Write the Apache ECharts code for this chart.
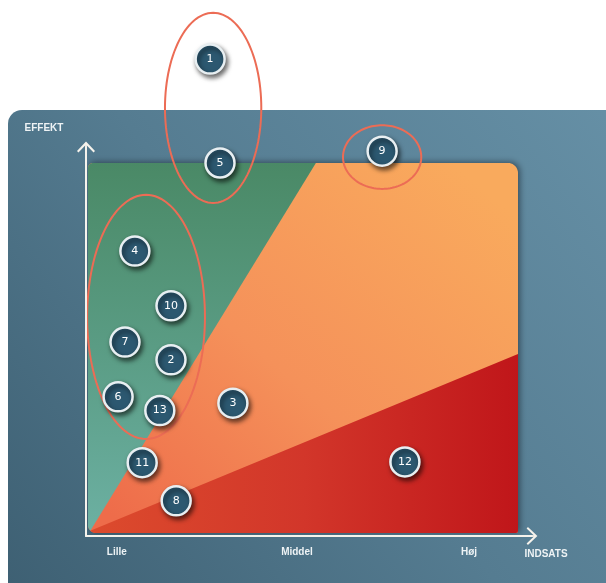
<!DOCTYPE html>
<html>
<head>
<meta charset="utf-8">
<script src="https://cdn.jsdelivr.net/npm/echarts@6/dist/echarts.min.js"></script>
<style>
  html, body { margin: 0; padding: 0; background: #ffffff; }
  #chart { width: 606px; height: 583px; }
</style>
</head>
<body>
<div id="chart"></div>
<script>
// Initiatives placed by effort (x) and effect (y), both on a 0–10 scale
const initiativeIds = ['1', '5', '9', '4', '10', '7', '2', '6', '13', '3', '11', '8', '12'];
const effortValues  = [2.84, 3.07, 6.84, 1.09, 1.93, 0.86, 1.93, 0.70, 1.67, 3.37, 1.26, 2.05, 7.37];
const effectValues  = [12.81, 10.0, 10.32, 7.62, 6.14, 5.16, 4.68, 3.68, 3.31, 3.51, 1.90, 0.87, 1.92];

// Axis wording
const effortTickLabels = ['Lille', 'Middel', 'Høj'];
const effortTickValues = [0.67, 4.86, 8.86];
const effortAxisTitle = 'INDSATS';
const effectAxisTitle = 'EFFEKT';

// Zone borders on the 0–10 scale
const quickWinEdgeX = 5.3;    // green zone meets the top edge here
const heavyLiftEdgeY = 4.84;  // red zone meets the right edge here

// Circled groups: centre x, centre y, half width, half height (data units)
const groupCenterX    = [2.91, 6.84, 1.35];
const groupCenterY    = [11.49, 10.16, 5.84];
const groupHalfWidth  = [1.12, 0.91, 1.37];
const groupHalfHeight = [2.57, 0.86, 3.30];

const chart = echarts.init(document.getElementById('chart'), null, { renderer: 'canvas' });

function arcPoints(cx, cy, r, a0, a1, n) {
  const pts = [];
  for (let i = 0; i <= n; i++) {
    const a = (a0 + (a1 - a0) * (n ? i / n : 0)) * Math.PI / 180;
    pts.push([cx + r * Math.cos(a), cy + r * Math.sin(a)]);
  }
  return pts;
}

function lin(x, y, x2, y2, stops) {
  return { type: 'linear', x: x, y: y, x2: x2, y2: y2,
    colorStops: stops.map(function (s) { return { offset: s[0], color: s[1] }; }) };
}

// Draws the three zones (orange frame, green and red wedges)
function renderZones(params, api) {
  const bl = api.coord([api.value(0), api.value(1)]);
  const tr = api.coord([api.value(2), api.value(3)]);
  const x0 = bl[0], y1 = bl[1], x1 = tr[0], y0 = tr[1];
  const gx = api.coord([api.value(4), api.value(3)])[0];
  const ry = api.coord([api.value(2), api.value(5)])[1];
  const rTL = 5, rTR = 10, rBR = 2, rBL = 8;

  const frame = [].concat(
    arcPoints(x0 + rTL, y0 + rTL, rTL, 180, 270, 8),
    arcPoints(x1 - rTR, y0 + rTR, rTR, 270, 360, 10),
    arcPoints(x1 - rBR, y1 - rBR, rBR, 0, 90, 4),
    arcPoints(x0 + rBL, y1 - rBL, rBL, 90, 180, 10)
  );
  const apex = arcPoints(x0 + rBL, y1 - rBL, rBL, 135, 135, 0)[0];
  const green = [apex].concat(
    arcPoints(x0 + rBL, y1 - rBL, rBL, 135, 180, 5),
    arcPoints(x0 + rTL, y0 + rTL, rTL, 180, 270, 8),
    [[gx, y0]]
  );
  const red = [apex].concat(
    arcPoints(x0 + rBL, y1 - rBL, rBL, 135, 90, 5),
    arcPoints(x1 - rBR, y1 - rBR, rBR, 90, 0, 4),
    [[x1, ry]]
  );

  return {
    type: 'group',
    children: [
      { type: 'polygon', shape: { points: frame },
        style: { fill: lin(0.85, 0, 0.1, 1, [[0, '#f9aa5d'], [0.55, '#f5915a'], [1, '#ee6c4a']]),
                 shadowBlur: 6, shadowColor: 'rgba(20,30,40,0.55)', shadowOffsetX: 2, shadowOffsetY: -1 } },
      { type: 'polygon', shape: { points: green },
        style: { fill: lin(0, 0, 0, 1, [[0, '#4a8966'], [0.5, '#5a9c84'], [1, '#6cb0a2']]) } },
      { type: 'polygon', shape: { points: red },
        style: { fill: lin(0, 0, 1, 0, [[0, '#dc4b2d'], [0.5, '#d2362a'], [1, '#c0161a']]) } }
    ]
  };
}

// Outline ellipse around a group of initiatives
function renderGroup(params, api) {
  const c = api.coord([api.value(0), api.value(1)]);
  const s = api.size([api.value(2) * 2, api.value(3) * 2], [api.value(0), api.value(1)]);
  const rx = s[0] / 2, ry = s[1] / 2;
  const pts = [];
  for (let a = 0; a < 360; a += 3) {
    const t = a * Math.PI / 180;
    pts.push([c[0] + rx * Math.cos(t), c[1] + ry * Math.sin(t)]);
  }
  return { type: 'polygon', shape: { points: pts },
    style: { fill: 'none', stroke: '#ec6c55', lineWidth: 2 } };
}

const chevron = 'path://M10,0 L20,10.5 L18.4,12 L10.9,4.2 L10.9,12 L9.1,12 L9.1,4.2 L1.6,12 L0,10.5 Z';
const hidden = { show: false };

const option = {
  animation: false,
  backgroundColor: '#ffffff',
  graphic: [
    { type: 'rect', z: -5, silent: true,
      shape: { x: 8, y: 110, width: 620, height: 500, r: [14, 0, 0, 0] },
      style: { fill: lin(0, 1, 1, 0, [[0, '#3d5f72'], [0.5, '#557c91'], [1, '#6690a6']]) } },
    { type: 'text', z: 10, x: 44, y: 128,
      style: { text: effectAxisTitle, fill: '#eef3f5', font: 'bold 10px "Liberation Sans", Arial, sans-serif',
               textAlign: 'center', textVerticalAlign: 'middle' } },
    { type: 'text', z: 10, x: 546, y: 554,
      style: { text: effortAxisTitle, fill: '#eef3f5', font: 'bold 10px "Liberation Sans", Arial, sans-serif',
               textAlign: 'center', textVerticalAlign: 'middle' } }
  ],
  grid: [
    { left: 88, top: 163, width: 430, height: 370, containLabel: false },
    { left: 86, top: 147, width: 446, height: 389, containLabel: false }
  ],
  xAxis: [
    { gridIndex: 0, type: 'value', min: 0, max: 10,
      axisLine: hidden, axisTick: hidden, splitLine: hidden,
      axisLabel: {
        customValues: effortTickValues,
        margin: 14,
        color: '#eef3f5', fontSize: 10, fontWeight: 'bold',
        fontFamily: '"Liberation Sans", Arial, sans-serif',
        formatter: function (v) {
          const i = effortTickValues.findIndex(function (t) { return Math.abs(t - v) < 1e-6; });
          return i >= 0 ? effortTickLabels[i] : '';
        }
      } },
    { gridIndex: 1, type: 'value', min: 0, max: 1, z: 5,
      axisLine: { show: true, onZero: false, symbol: ['none', chevron], symbolSize: [18, 11],
                  lineStyle: { color: '#f6f3ec', width: 2 } },
      axisTick: hidden, axisLabel: hidden, splitLine: hidden }
  ],
  yAxis: [
    { gridIndex: 0, type: 'value', min: 0, max: 10,
      axisLine: hidden, axisTick: hidden, axisLabel: hidden, splitLine: hidden },
    { gridIndex: 1, type: 'value', min: 0, max: 1, z: 5,
      axisLine: { show: true, onZero: false, symbol: ['none', chevron], symbolSize: [18, 11],
                  lineStyle: { color: '#f6f3ec', width: 2 } },
      axisTick: hidden, axisLabel: hidden, splitLine: hidden }
  ],
  series: [
    { type: 'custom', name: 'zones', xAxisIndex: 0, yAxisIndex: 0, z: 1, silent: true, clip: false,
      renderItem: renderZones,
      data: [[0, 0, 10, 10, quickWinEdgeX, heavyLiftEdgeY]] },
    { type: 'custom', name: 'groups', xAxisIndex: 0, yAxisIndex: 0, z: 3, silent: true, clip: false,
      renderItem: renderGroup,
      data: groupCenterX.map(function (x, i) {
        return [x, groupCenterY[i], groupHalfWidth[i], groupHalfHeight[i]];
      }) },
    { type: 'scatter', name: 'initiatives', xAxisIndex: 0, yAxisIndex: 0, z: 4, clip: false,
      symbol: 'circle', symbolSize: 29,
      itemStyle: { color: '#2c5870', borderColor: '#e8eff2', borderWidth: 2.5, opacity: 1,
                   shadowBlur: 5, shadowColor: 'rgba(0,0,0,0.6)', shadowOffsetX: 2, shadowOffsetY: 3 },
      label: { show: true, position: 'inside', formatter: '{b}', color: '#ffffff', fontSize: 11,
               fontFamily: '"DejaVu Sans", Verdana, sans-serif' },
      data: effortValues.map(function (x, i) {
        return { name: initiativeIds[i], value: [x, effectValues[i]] };
      }) }
  ]
};

chart.setOption(option);
</script>
</body>
</html>
